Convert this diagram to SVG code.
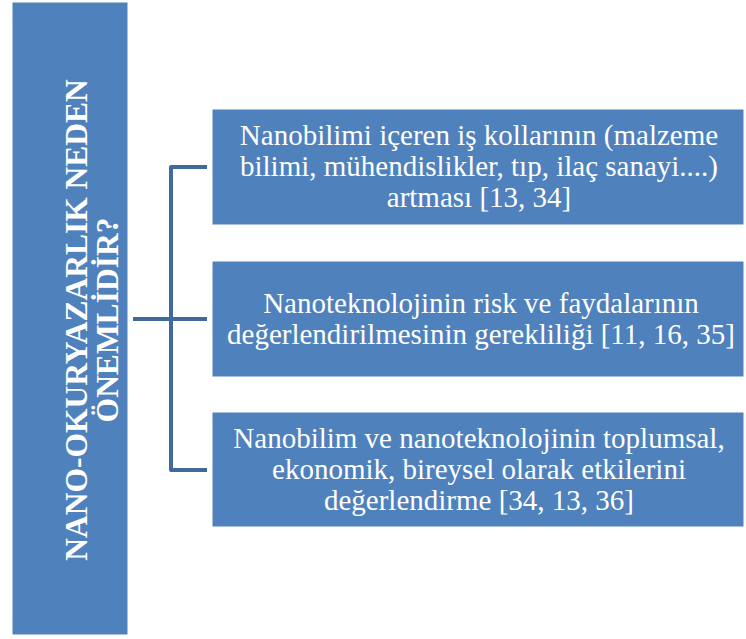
<svg xmlns="http://www.w3.org/2000/svg" width="746" height="639" viewBox="0 0 746 639">
  <style>
    .box { fill: #4F81BD; stroke: #ffffff; stroke-width: 1; }
    .label { font-size: 29px; fill: #ffffff; text-anchor: middle; }
    .title { font-size: 31.5px; font-weight: 700; fill: #ffffff; text-anchor: middle; }
    .link { fill: none; stroke: #416A9C; stroke-width: 4; stroke-linejoin: round; stroke-linecap: butt; }
  </style>
  <rect width="746" height="639" fill="#ffffff"/>

  <!-- main heading column -->
  <g id="heading">
    <rect class="box" x="12" y="2" width="116" height="633"/>
    <g transform="translate(87,320) rotate(-90)" font-family="'Liberation Serif', 'Times New Roman', Times, 'DejaVu Serif', serif">
      <text class="title" x="0" y="0">NANO-OKURYAZARLIK NEDEN</text>
      <text class="title" x="0" y="31">ÖNEMLİDİR?</text>
    </g>
  </g>

  <!-- bracket connecting heading to the three reasons -->
  <g id="connectors">
    <path class="link" d="M207,167 H171 V470 H207"/>
    <path class="link" d="M133,319 H207"/>
  </g>

  <g font-family="'Liberation Serif', 'Times New Roman', Times, 'DejaVu Serif', serif">
    <g id="reason1">
      <rect class="box" x="212" y="109" width="532" height="116"/>
      <text class="label" x="479" y="145">Nanobilimi içeren iş kollarının (malzeme</text>
      <text class="label" x="479" y="176">bilimi, mühendislikler, tıp, ilaç sanayi....)</text>
      <text class="label" x="479" y="207">artması [13, 34]</text>
    </g>

    <g id="reason2">
      <rect class="box" x="212" y="261" width="532" height="116"/>
      <text class="label" x="481" y="313">Nanoteknolojinin risk ve faydalarının</text>
      <text class="label" x="481" y="344">değerlendirilmesinin gerekliliği [11, 16, 35]</text>
    </g>

    <g id="reason3">
      <rect class="box" x="212" y="412" width="532" height="115"/>
      <text class="label" x="479" y="448">Nanobilim ve nanoteknolojinin toplumsal,</text>
      <text class="label" x="479" y="479">ekonomik, bireysel olarak etkilerini</text>
      <text class="label" x="479" y="510">değerlendirme [34, 13, 36]</text>
    </g>
  </g>
</svg>
